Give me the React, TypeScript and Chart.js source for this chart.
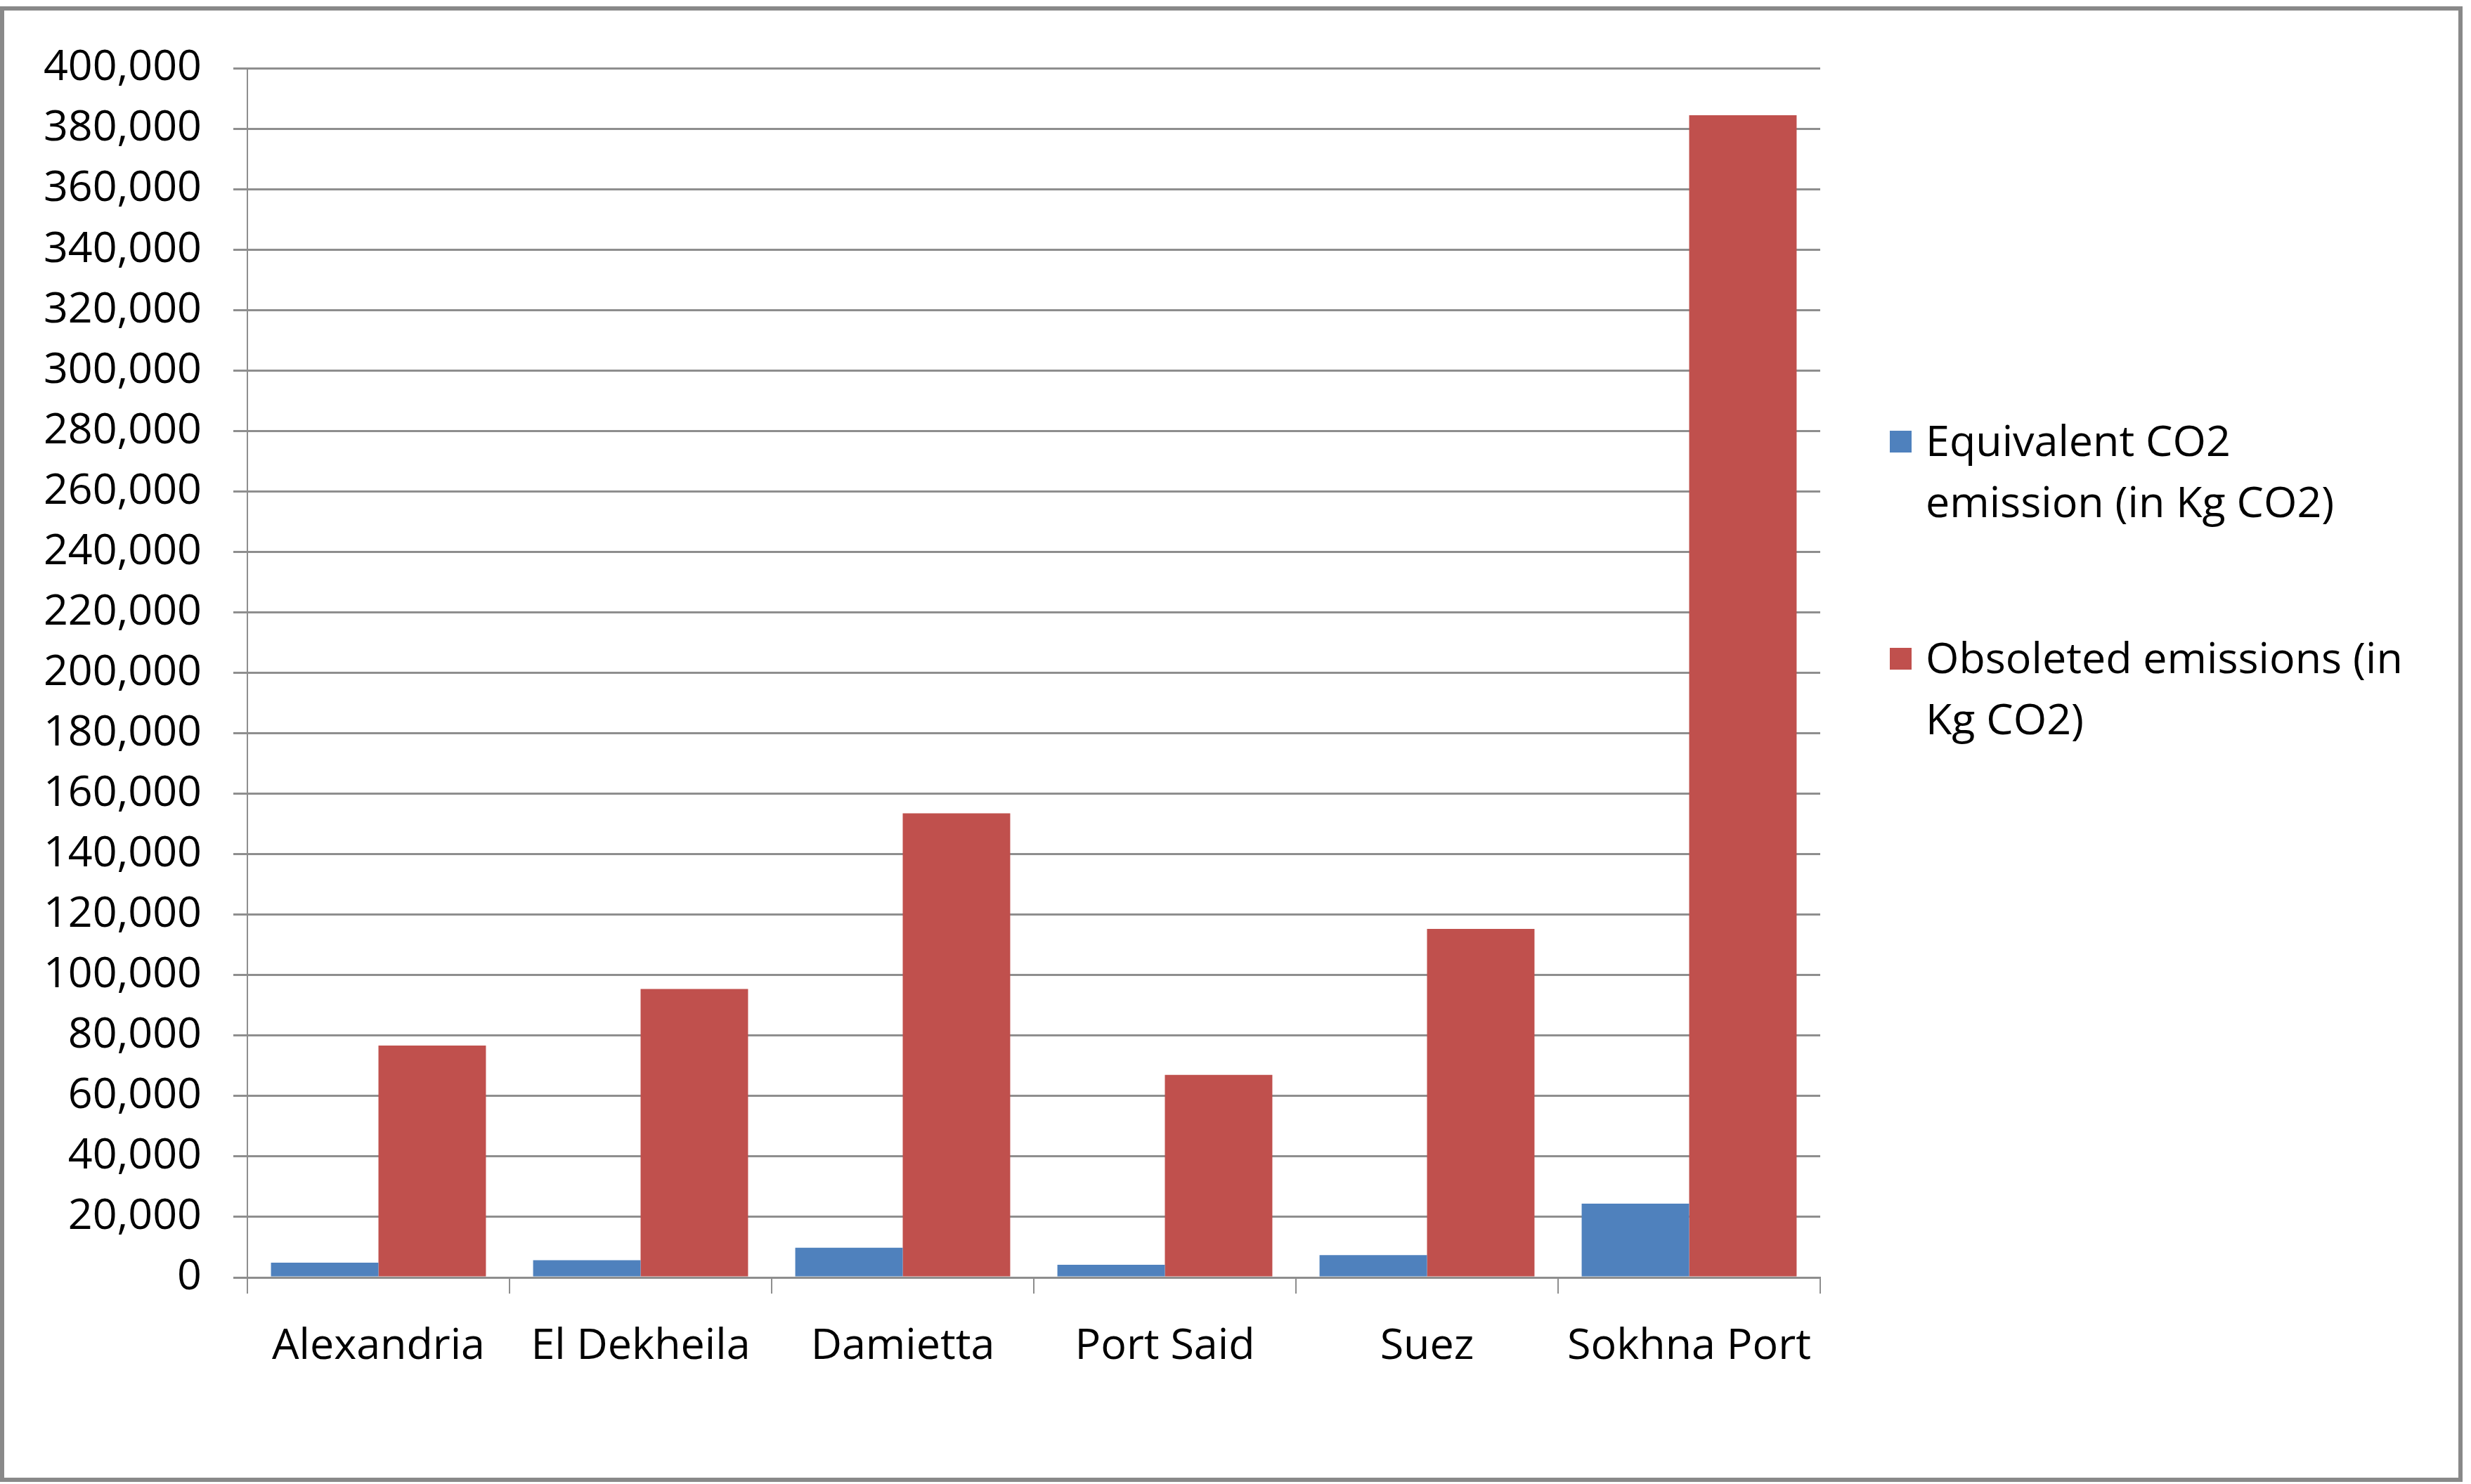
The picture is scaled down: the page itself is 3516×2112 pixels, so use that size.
import React, { useEffect, useRef } from 'react';
import { Chart, registerables } from 'chart.js';

Chart.register(...registerables);

const categories = ['Alexandria', 'El Dekheila', 'Damietta', 'Port Said', 'Suez', 'Sokhna Port'];
const equivalentCO2 = [4900, 5700, 9800, 4200, 7400, 24400];
const obsoletedEmissions = [76700, 95400, 153500, 67000, 115300, 384400];
const seriesNames = ['Equivalent CO2 emission (in Kg CO2)', 'Obsoleted emissions (in Kg CO2)'];
const legendLines = [
  ['Equivalent CO2', 'emission (in Kg CO2)'],
  ['Obsoleted emissions (in', 'Kg CO2)'],
];
const yMin = 0;
const yMax = 400000;
const yStep = 20000;

const FONT = '"Open Sans", "DejaVu Sans", sans-serif';
const FONT_SIZE = 61;
const GRID = '#8e8e8e';

const legendPlugin = {
  id: 'wrappedLegend',
  afterDraw(chart: any) {
    const ctx = chart.ctx;
    ctx.save();
    ctx.font = `${FONT_SIZE}px ${FONT}`;
    ctx.textBaseline = 'middle';
    ctx.textAlign = 'left';
    const starts = [632, 941];
    const lineH = 87;
    chart.data.datasets.forEach((ds: any, i: number) => {
      const y0 = starts[i];
      ctx.fillStyle = ds.backgroundColor;
      ctx.fillRect(2689, y0 - 19, 31, 31);
      ctx.fillStyle = '#000';
      legendLines[i].forEach((line, j) => {
        ctx.fillText(line, 2740, y0 + j * lineH);
      });
    });
    ctx.restore();
  },
};

export default function App() {
  const ref = useRef<HTMLCanvasElement>(null);

  useEffect(() => {
    if (!ref.current) return;
    const chart = new Chart(ref.current, {
      type: 'bar',
      data: {
        labels: categories,
        datasets: [
          {
            label: seriesNames[0],
            data: equivalentCO2,
            backgroundColor: '#4F81BD',
            borderWidth: 0,
            categoryPercentage: 0.82,
            barPercentage: 1.0,
          },
          {
            label: seriesNames[1],
            data: obsoletedEmissions,
            backgroundColor: '#C0504D',
            borderWidth: 0,
            categoryPercentage: 0.82,
            barPercentage: 1.0,
          },
        ],
      },
      options: {
        animation: false,
        responsive: false,
        maintainAspectRatio: false,
        devicePixelRatio: 1,
        layout: { padding: { left: 0, top: 97, right: 926, bottom: 0 } },
        plugins: {
          legend: { display: false },
          tooltip: { enabled: false },
          title: { display: false },
        },
        scales: {
          x: {
            offset: true,
            grid: {
              offset: true,
              drawOnChartArea: false,
              drawTicks: true,
              tickLength: 23,
              color: GRID,
              lineWidth: 2,
            },
            border: { display: true, color: GRID, width: 3 },
            ticks: {
              color: '#000',
              font: { family: FONT, size: FONT_SIZE },
              padding: 39,
              maxRotation: 0,
              autoSkip: false,
            },
            afterFit(scale: any) {
              scale.height = 2112 - 1818;
            },
          },
          y: {
            min: yMin,
            max: yMax,
            grid: {
              color: GRID,
              lineWidth: 3,
              tickLength: 20,
              drawTicks: true,
            },
            border: { display: true, color: GRID, width: 2 },
            ticks: {
              stepSize: yStep,
              color: '#000',
              font: { family: FONT, size: FONT_SIZE },
              padding: 45,
              callback: (v: any) => Number(v).toLocaleString('en-US'),
            },
            afterFit(scale: any) {
              scale.width = 352;
            },
          },
        },
      },
      plugins: [legendPlugin],
    });
    return () => chart.destroy();
  }, []);

  return (
    <div
      style={{
        position: 'absolute',
        left: 0,
        top: 0,
        width: 3516,
        height: 2112,
        background: '#fff',
        overflow: 'hidden',
      }}
    >
      <div
        style={{
          position: 'absolute',
          left: 0,
          top: 9,
          width: 3504,
          height: 2100,
          border: '6px solid #898989',
          boxSizing: 'border-box',
        }}
      />
      <canvas
        ref={ref}
        width={3516}
        height={2112}
        style={{ position: 'absolute', left: 0, top: 0, width: 3516, height: 2112 }}
      />
    </div>
  );
}
